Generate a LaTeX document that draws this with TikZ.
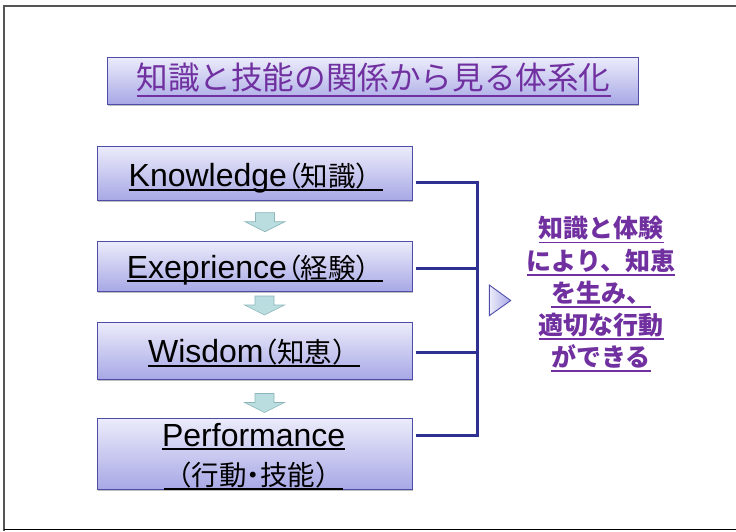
\documentclass[tikz,border=0pt]{standalone}
\usepackage{fontspec}
\setmainfont{Liberation Sans}
\newfontfamily\cjk{Noto Sans CJK JP}
\newfontfamily\cjkp[RawFeature=+palt]{Noto Sans CJK JP}
\usetikzlibrary{shadows}
\definecolor{boxtop}{RGB}{236,236,251}
\definecolor{boxbot}{RGB}{168,168,230}
\definecolor{boxline}{RGB}{78,78,168}
\definecolor{connc}{RGB}{46,49,146}
\definecolor{purp}{RGB}{112,48,160}
\definecolor{arrfill}{RGB}{186,222,224}
\definecolor{arrline}{RGB}{140,182,186}
\definecolor{framegray}{RGB}{85,85,85}
\newsavebox\ulbox
\newcommand\ulin[3]{\sbox\ulbox{#3}\leavevmode\rlap{\usebox\ulbox}\rule[-#1]{\wd\ulbox}{#2}}
\newcommand\jp[1]{{\cjk\fontsize{27.5}{31}\selectfont #1}}
\newcommand\jpp[1]{{\cjkp\fontsize{27.5}{31}\selectfont #1}}
\newcommand\dnarrow[2]{\draw[darr] ({#1-9.5},#2) -- ({#1+9.5},#2) -- ({#1+9.5},{#2+9}) -- ({#1+20},{#2+9}) -- (#1,{#2+19}) -- ({#1-20},{#2+9}) -- ({#1-9.5},{#2+9}) -- cycle;}
\begin{document}
\begin{tikzpicture}[x=1pt,y=-1pt,
  gbox/.style={draw=boxline, line width=1pt, top color=boxtop, bottom color=boxbot, inner sep=0pt,
    drop shadow={shadow xshift=1.2pt, shadow yshift=-1.5pt, opacity=0.25, fill=black}},
  txt/.style={anchor=base, inner sep=0pt},
  btxt/.style={txt, font=\fontsize{32}{37}\selectfont},
  rtxt/.style={txt, text=purp, font=\cjk\bfseries\fontsize{25}{30}\selectfont},
  connl/.style={draw=connc, line width=2.6pt},
  darr/.style={fill=arrfill, draw=arrline, line width=0.6pt}]
\useasboundingbox (0,0) rectangle (736,531);
% frame
\draw[framegray, line width=2pt] (4,531) -- (4,5.5) -- (736,5.5);
\draw[black, line width=1.3pt] (4,529.6) -- (736,529.6);
% title
\node[gbox, minimum width=531pt, minimum height=47pt] (title) at (372.5,80.5) {};
\node[txt, text=purp, font=\cjk\fontsize{31.6}{36}\selectfont] (ttext) at (373.5,89.5) {\ulin{7.5pt}{2pt}{知識と技能の関係から見る体系化}};
% boxes
\node[gbox, minimum width=315pt, minimum height=54pt] (b1) at (254.5,173) {};
\node[gbox, minimum width=315pt, minimum height=50pt] (b2) at (254.5,266) {};
\node[gbox, minimum width=315pt, minimum height=57pt] (b3) at (254.5,350.5) {};
\node[gbox, minimum width=315pt, minimum height=71pt] (b4) at (254.5,453.5) {};
\node[btxt] (t1) at (256,186.7) {\ulin{4pt}{1.8pt}{Knowledge\jpp{（}\jp{知識）}}};
\node[btxt] (t2) at (255,278) {\ulin{4pt}{1.8pt}{Exeprience\jpp{（}\jp{経験）}}};
\node[btxt] (t3) at (254,362.7) {\ulin{4pt}{1.8pt}{Wisdom\jpp{（}\jp{知恵）}}};
\node[btxt] (t4a) at (253.7,446.7) {\ulin{3.5pt}{1.8pt}{Performance}};
\node[btxt] (t4b) at (253.5,485) {\ulin{5pt}{1.8pt}{\jp{（行動}\jpp{・}\jp{技能）}}};
% down arrows
\dnarrow{265}{212.7}
\dnarrow{264.5}{296}
\dnarrow{264.5}{393.5}
% connectors
\coordinate (j1) at (477.7,182.3);
\coordinate (j2) at (477.7,268.5);
\coordinate (j3) at (477.7,352.7);
\coordinate (j4) at (477.7,435.3);
\draw[connl] ([xshift=3pt,yshift=-9.3pt]b1.east) -- (j1) -- (j4) -- ([xshift=3pt,yshift=18.2pt]b4.east);
\draw[connl] ([xshift=3pt,yshift=-2.5pt]b2.east) -- (j2);
\draw[connl] ([xshift=3pt,yshift=-2.2pt]b3.east) -- (j3);
% triangle
\shade[left color=boxtop, right color=boxbot] (489.3,285) -- (510.7,300.5) -- (489.3,315.7) -- cycle;
\draw[boxline, line width=0.9pt] (489.3,285) -- (510.7,300.5) -- (489.3,315.7) -- cycle;
% right text
\node[rtxt] (r1) at (601,237.8) {\ulin{5.5pt}{1.6pt}{知識と体験}};
\node[rtxt] (r2) at (601,270) {\ulin{5.5pt}{1.6pt}{により、知恵}};
\node[rtxt] (r3) at (601,302.2) {\ulin{5.5pt}{1.6pt}{を生み、}};
\node[rtxt] (r4) at (601,334.3) {\ulin{5.5pt}{1.6pt}{適切な行動}};
\node[rtxt] (r5) at (601,366.5) {\ulin{5.5pt}{1.6pt}{ができる}};
\end{tikzpicture}
\end{document}
